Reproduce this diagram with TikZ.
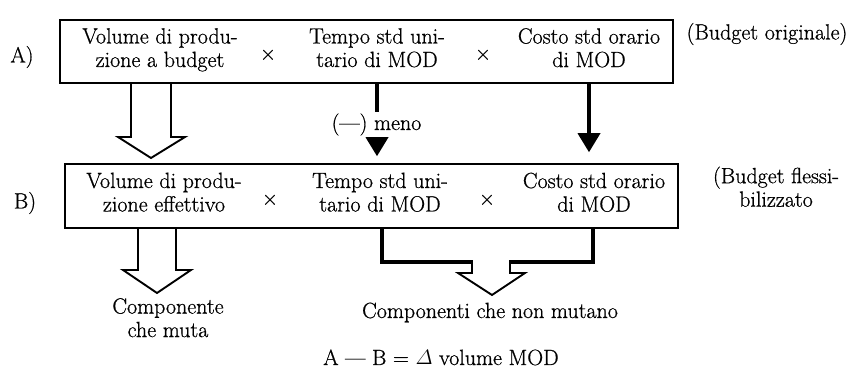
\documentclass[tikz,border=0pt]{standalone}
\usepackage{fontspec}
\setmainfont{Latin Modern Roman}[FakeBold=0.7]
\usetikzlibrary{arrows.meta}
\begin{document}
\begin{tikzpicture}[x=1pt,y=-1pt,
  font=\fontsize{22}{23.5}\selectfont,
  box/.style={draw, line width=1.5pt, inner sep=0pt},
  txt/.style={align=center, inner sep=0pt, anchor=north},
  lbl/.style={inner sep=0pt},
  hollow/.style={draw, line width=1.9pt, line join=miter},
  thickbr/.style={draw, line width=3.4pt, line join=miter},
  solidarr/.style={line width=3.6pt, -{Triangle[width=22pt,length=19pt]}}]
\useasboundingbox (0,0) rectangle (852,379);
% boxes
\node[box, minimum width=613pt, minimum height=63pt] (boxA) at (366.5,51.5) {};
\node[box, minimum width=613pt, minimum height=64pt] (boxB) at (371.5,196) {};
% box A texts
\node[txt] (a1) at (160,28) {Volume di produ-\\zione a budget};
\node[lbl] (ax1) at (268,55) {×};
\node[txt] (a2) at (377,28) {Tempo std uni-\\tario di MOD};
\node[lbl] (ax2) at (483,55) {×};
\node[txt] (a3) at (589,28) {Costo std orario\\di MOD};
\node[lbl] (la) at (22,57) {A)};
\node[lbl] (ba) at (767,34) {(Budget originale)};
% box B texts
\node[txt] (b1) at (164,172.5) {Volume di produ-\\zione effettivo};
\node[lbl] (bx1) at (270,200) {×};
\node[txt] (b2) at (380,172.5) {Tempo std uni-\\tario di MOD};
\node[lbl] (bx2) at (487,200) {×};
\node[txt] (b3) at (594,172.5) {Costo std orario\\di MOD};
\node[lbl] (lb) at (25,203) {B)};
\node[txt] (bb) at (776,166.5) {(Budget flessi-\\bilizzato};
% arrows A -> B
\draw[hollow] (131,83) -- (131,137) -- (118,137) -- (151,158) -- (185,137) -- (171,137) -- (171,83);
\draw[solidarr] (boxA.south -| a2.center) -- ([yshift=7pt]boxB.north -| a2.center);
\draw[solidarr] (boxA.south -| a3.center) -- ([yshift=11pt]boxB.north -| a3.center);
\node[fill=white, inner sep=1.5pt, anchor=base] (meno) at (376.5,130) {(---) meno};
% arrows below B
\draw[hollow] (138,228) -- (138,270) -- (123,270) -- (157,293) -- (191,270) -- (176,270) -- (176,228);
\draw[hollow] (472,262) -- (472,273) -- (458,273) -- (492,295) -- (525,273) -- (510,273) -- (510,262);
\draw[thickbr] (382,228) -- (382,262) -- (473,262);
\draw[thickbr] (509,262) -- (593,262) -- (593,228);
% bottom texts
\node[txt] (cm) at (168,298) {Componente\\che muta};
\node[lbl, anchor=base] (cn) at (490,318) {Componenti che non mutano};
\node[lbl, anchor=base] (eq) at (441,365) {A --- B = $\mathnormal{\Delta}$ volume MOD};
\end{tikzpicture}
\end{document}
